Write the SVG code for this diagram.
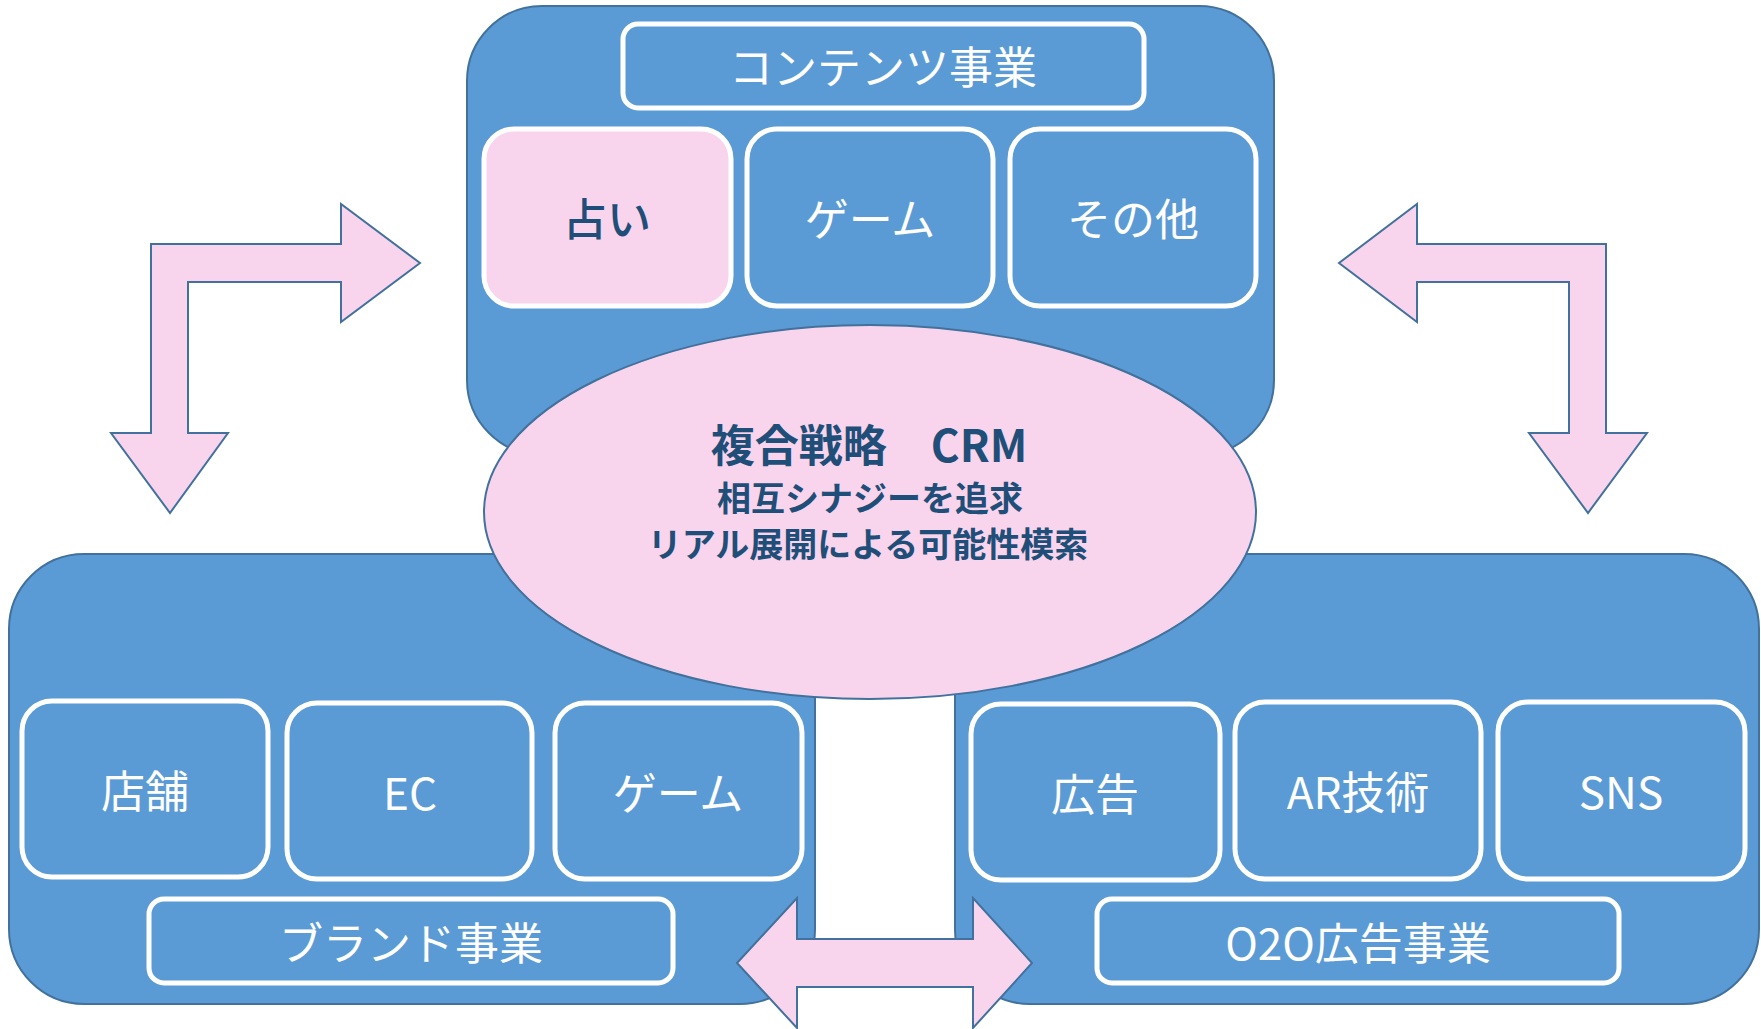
<svg xmlns="http://www.w3.org/2000/svg" width="1761" height="1029" viewBox="0 0 1761 1029">
<style>
.cont{fill:#5B9BD5;stroke:#41719C;stroke-width:2}
.tile{fill:#5B9BD5;stroke:#FFFFFF;stroke-width:5}
.pink{fill:#F8D5EC;stroke:#FFFFFF;stroke-width:5}
.arrow{fill:#F8D5EC;stroke:#41719C;stroke-width:2;stroke-linejoin:miter}
.wt{fill:#FFFFFF;font-family:"Noto Sans CJK JP","Noto Sans",sans-serif;font-size:44px;text-anchor:middle;dominant-baseline:central}
.dt{fill:#1F4E79;font-family:"Noto Sans CJK JP","Noto Sans",sans-serif;text-anchor:middle;dominant-baseline:central;font-weight:bold}
.dn{fill:#1F4E79;font-family:"Noto Sans CJK JP","Noto Sans",sans-serif;text-anchor:middle;dominant-baseline:central;font-weight:500}
</style>
<rect width="1761" height="1029" fill="#FFFFFF"/>
<g id="contents-business">
<rect class="cont" x="467" y="6" width="807" height="449" rx="75" ry="75"/>
<rect class="tile" x="623" y="24" width="521" height="84" rx="15" ry="15"/>
<text class="wt" x="883" y="65" font-size="43">コンテンツ事業</text>
</g>
<g id="tile-uranai">
<rect class="pink" x="484" y="129" width="247" height="177" rx="30" ry="30"/>
<text class="dn" x="607" y="217" font-size="44">占い</text>
</g>
<g id="tile-game-top">
<rect class="tile" x="747" y="129" width="246" height="177" rx="30" ry="30"/>
<text class="wt" x="870" y="217">ゲーム</text>
</g>
<g id="tile-other">
<rect class="tile" x="1010" y="129" width="246" height="177" rx="30" ry="30"/>
<text class="wt" x="1133" y="217">その他</text>
</g>
<g id="brand-business">
<rect class="cont" x="9" y="554" width="806" height="450" rx="75" ry="75"/>
<rect class="tile" x="149" y="899" width="524" height="84" rx="15" ry="15"/>
<text class="wt" x="411" y="941" font-size="42">ブランド事業</text>
</g>
<g id="o2o-business">
<rect class="cont" x="955" y="554" width="804" height="450" rx="75" ry="75"/>
<rect class="tile" x="1097" y="899" width="522" height="84" rx="15" ry="15"/>
<text class="wt" x="1358" y="941" font-size="42">O2O広告事業</text>
</g>
<g id="crm">
<ellipse cx="870" cy="512" rx="386" ry="187" fill="#F8D5EC" stroke="#41719C" stroke-width="2"/>
<text class="dt" x="869" y="443" font-size="44">複合戦略　CRM</text>
<text class="dt" x="870" y="496" font-size="34">相互シナジーを追求</text>
<text class="dt" x="868" y="542" font-size="34">リアル展開による可能性模索</text>
</g>
<g id="tile-store">
<rect class="tile" x="22" y="701" width="246" height="176" rx="30" ry="30"/>
<text class="wt" x="145" y="789">店舗</text>
</g>
<g id="tile-ec">
<rect class="tile" x="287" y="703" width="245" height="176" rx="30" ry="30"/>
<text class="wt" x="410" y="791">EC</text>
</g>
<g id="tile-game-bottom">
<rect class="tile" x="555" y="703" width="247" height="176" rx="30" ry="30"/>
<text class="wt" x="678" y="791">ゲーム</text>
</g>
<g id="tile-ad">
<rect class="tile" x="971" y="704" width="249" height="176" rx="30" ry="30"/>
<text class="wt" x="1095" y="792">広告</text>
</g>
<g id="tile-ar">
<rect class="tile" x="1235" y="702" width="246" height="177" rx="30" ry="30"/>
<text class="wt" x="1358" y="790">AR技術</text>
</g>
<g id="tile-sns">
<rect class="tile" x="1498" y="702" width="247" height="177" rx="30" ry="30"/>
<text class="wt" x="1621" y="790">SNS</text>
</g>
<g id="connectors">
<path class="arrow" d="M151,244 L341,244 L341,204 L420,263 L341,322 L341,282 L188,282 L188,433 L228,433 L170,513 L111,433 L151,433 Z"/>
<path class="arrow" d="M1606,244 L1417,244 L1417,204 L1339,263 L1417,322 L1417,282 L1569,282 L1569,433 L1529,433 L1588,513 L1647,433 L1606,433 Z"/>
<path class="arrow" d="M737,963 L797,898 L797,939 L973,939 L973,898 L1032,963 L973,1028 L973,987 L797,987 L797,1028 Z"/>
</g>
</svg>
